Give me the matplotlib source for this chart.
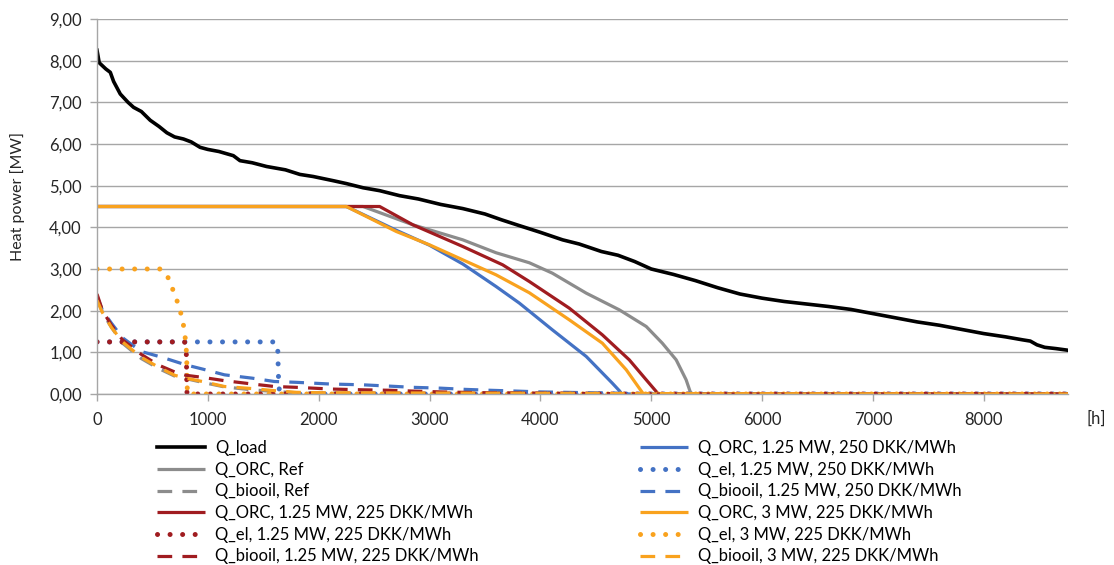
import numpy as np
import matplotlib
matplotlib.use('Agg')
import matplotlib.pyplot as plt
from matplotlib.ticker import FuncFormatter

plt.rcParams['font.family'] = ['Lato', 'DejaVu Sans']

# heat load duration curve
h_load = [0, 20, 80, 120, 150, 210, 280, 330, 400, 480, 560, 630, 700, 780, 850, 930,
          1000, 1100, 1230, 1290, 1400, 1530, 1700, 1830, 1950, 2130, 2250, 2400, 2550,
          2730, 2900, 3100, 3300, 3500, 3650, 3800, 4000, 4200, 4350, 4550, 4700, 4850,
          5000, 5200, 5400, 5600, 5800, 6000, 6200, 6400, 6600, 6800, 7000, 7200, 7400,
          7600, 7800, 8000, 8200, 8350, 8420, 8480, 8550, 8650, 8760]
q_load = [8.25, 7.95, 7.8, 7.72, 7.5, 7.2, 7.0, 6.88, 6.78, 6.57, 6.42, 6.27, 6.17, 6.12,
          6.05, 5.92, 5.87, 5.82, 5.72, 5.6, 5.55, 5.46, 5.38, 5.27, 5.22, 5.12, 5.05, 4.95,
          4.88, 4.76, 4.68, 4.55, 4.45, 4.32, 4.18, 4.05, 3.88, 3.7, 3.6, 3.42, 3.33, 3.18,
          3.0, 2.87, 2.72, 2.55, 2.4, 2.3, 2.22, 2.16, 2.1, 2.03, 1.93, 1.83, 1.73, 1.65,
          1.55, 1.45, 1.37, 1.3, 1.27, 1.18, 1.12, 1.09, 1.05]

# ORC heat
h_orc_ref = [0, 2400, 2850, 3300, 3600, 3900, 4108, 4414, 4712, 4955, 5100, 5225, 5315, 5351, 5370, 8760]
q_orc_ref = [4.5, 4.5, 4.06, 3.70, 3.39, 3.15, 2.9, 2.42, 2.02, 1.62, 1.22, 0.82, 0.34, 0.06, 0, 0]

h_orc_r = [0, 2550, 2850, 3300, 3660, 3900, 4261, 4559, 4802, 4955, 5045, 5060, 8760]
q_orc_r = [4.5, 4.5, 4.06, 3.54, 3.1, 2.7, 2.06, 1.42, 0.82, 0.34, 0.06, 0, 0]

h_orc_b = [0, 2250, 2700, 3000, 3300, 3600, 3811, 4108, 4414, 4649, 4712, 4735, 8760]
q_orc_b = [4.5, 4.5, 3.93, 3.57, 3.12, 2.58, 2.18, 1.54, 0.9, 0.26, 0.08, 0, 0]

h_orc_o = [0, 2250, 2700, 3000, 3300, 3600, 3900, 4261, 4559, 4775, 4892, 4930, 8760]
q_orc_o = [4.5, 4.5, 3.90, 3.58, 3.22, 2.86, 2.43, 1.78, 1.22, 0.58, 0.14, 0, 0]

# electric boiler heat
h_el_r = [0, 790, 805, 812, 8760]
q_el_r = [1.25, 1.25, 1.1, 0, 0]

h_el_b = [0, 1600, 1630, 1635, 1640, 1650, 8760]
q_el_b = [1.25, 1.25, 1.18, 0.6, 0.2, 0, 0]

h_el_o = [0, 580, 640, 700, 740, 770, 790, 805, 812, 815, 8760]
q_el_o = [3.0, 3.0, 2.8, 2.4, 2.1, 1.8, 1.5, 1.1, 0.6, 0, 0]

# bio-oil boiler heat
h_bio_ref = [0, 50, 130, 230, 400, 550, 700, 950, 1150, 1400, 1600, 1800, 2500, 5360, 8760]
q_bio_ref = [2.3, 1.95, 1.6, 1.22, 0.85, 0.62, 0.43, 0.28, 0.17, 0.1, 0.06, 0.03, 0.02, 0, 0]

h_bio_r = [0, 50, 130, 230, 400, 550, 700, 800, 950, 1150, 1400, 1600, 1800, 2100, 2400,
           2630, 2850, 3100, 3500, 4000, 5050, 8760]
q_bio_r = [2.4, 2.0, 1.65, 1.3, 0.95, 0.7, 0.53, 0.45, 0.4, 0.32, 0.24, 0.18, 0.16, 0.12,
           0.1, 0.09, 0.07, 0.05, 0.03, 0.02, 0, 0]

h_bio_b = [0, 50, 130, 230, 400, 600, 800, 950, 1150, 1400, 1600, 1800, 2100, 2400, 2630,
           2850, 3100, 3330, 3540, 3780, 4000, 4230, 4450, 4700, 4760, 8760]
q_bio_b = [2.35, 2.0, 1.7, 1.35, 1.02, 0.87, 0.7, 0.6, 0.46, 0.38, 0.3, 0.28, 0.24, 0.22,
           0.19, 0.16, 0.14, 0.11, 0.09, 0.07, 0.05, 0.04, 0.03, 0.02, 0, 0]

h_bio_o = [0, 50, 130, 230, 400, 550, 700, 800, 950, 1150, 1400, 1600, 1800, 2000, 4930, 8760]
q_bio_o = [2.25, 1.95, 1.6, 1.25, 0.88, 0.65, 0.45, 0.38, 0.3, 0.18, 0.13, 0.08, 0.04, 0.03, 0.01, 0]

c_black = '#000000'
c_gray = '#8C8C8C'
c_red = '#A01C20'
c_blue = '#4472C4'
c_orange = '#F9A21E'

solid = dict(lw=2.3, solid_capstyle='butt')
dotted = dict(lw=3.6, linestyle=(0, (0.01, 2.5)), dash_capstyle='round')
dashed = dict(lw=2.3, linestyle=(0, (4.6, 3.2)), dash_capstyle='butt')

fig = plt.figure(figsize=(11.14, 5.65), dpi=100)
ax = fig.add_axes([97/1114, 1 - 394/565, (1068 - 97)/1114, (394 - 19)/565])

# drawing order as in the spreadsheet
l_load, = ax.plot(h_load, q_load, color=c_black, lw=2.6, label='Q_load')
l_orc_b, = ax.plot(h_orc_b, q_orc_b, color=c_blue, label='Q_ORC, 1.25 MW, 250 DKK/MWh', **solid)
l_orc_ref, = ax.plot(h_orc_ref, q_orc_ref, color=c_gray, label='Q_ORC, Ref', **solid)
l_el_b, = ax.plot(h_el_b, q_el_b, color=c_blue, label='Q_el, 1.25 MW, 250 DKK/MWh', **dotted)
l_bio_ref, = ax.plot(h_bio_ref, q_bio_ref, color=c_gray, label='Q_biooil, Ref', **dashed)
l_bio_b, = ax.plot(h_bio_b, q_bio_b, color=c_blue, label='Q_biooil, 1.25 MW, 250 DKK/MWh', **dashed)
l_orc_r, = ax.plot(h_orc_r, q_orc_r, color=c_red, label='Q_ORC, 1.25 MW, 225 DKK/MWh', **solid)
l_orc_o, = ax.plot(h_orc_o, q_orc_o, color=c_orange, label='Q_ORC, 3 MW, 225 DKK/MWh', **solid)
l_el_r, = ax.plot(h_el_r, q_el_r, color=c_red, label='Q_el, 1.25 MW, 225 DKK/MWh', **dotted)
l_el_o, = ax.plot(h_el_o, q_el_o, color=c_orange, label='Q_el, 3 MW, 225 DKK/MWh', **dotted)
l_bio_r, = ax.plot(h_bio_r, q_bio_r, color=c_red, label='Q_biooil, 1.25 MW, 225 DKK/MWh', **dashed)
l_bio_o, = ax.plot(h_bio_o, q_bio_o, color=c_orange, label='Q_biooil, 3 MW, 225 DKK/MWh', **dashed)

ax.set_xlim(0, 8760)
ax.set_ylim(0, 9)
ax.set_xticks(np.arange(0, 8001, 1000))
ax.set_yticks(np.arange(0, 10, 1))
ax.yaxis.set_major_formatter(FuncFormatter(lambda v, p: ('%.2f' % v).replace('.', ',')))

grid_c = '#A6A6A6'
ax.grid(axis='y', color=grid_c, lw=1.0)
ax.set_axisbelow(True)
for s in ['top', 'right']:
    ax.spines[s].set_visible(False)
for s in ['left', 'bottom']:
    ax.spines[s].set_color(grid_c)
    ax.spines[s].set_linewidth(1.0)
ax.tick_params(axis='both', colors=grid_c, length=5, width=1.0, labelsize=12, labelcolor='#262626')
ax.tick_params(axis='x', pad=8)
ax.tick_params(axis='y', pad=6)

fig.text(18/1114, 1 - 196/565, 'Heat power [MW]', rotation=90, ha='center', va='center',
         fontsize=11.5, color='#262626')
fig.text(1096/1114, 1 - 419/565, '[h]', ha='center', va='center', fontsize=12, color='#262626')

leg_kw = dict(frameon=False, fontsize=12, handlelength=2.9, handletextpad=0.6,
              labelspacing=0.34, borderaxespad=0, borderpad=0)
leg1 = fig.legend(handles=[l_load, l_orc_ref, l_bio_ref, l_orc_r, l_el_r, l_bio_r],
                  loc='upper left', bbox_to_anchor=(157/1114, 1 - 440/565), **leg_kw)
leg2 = fig.legend(handles=[l_orc_b, l_el_b, l_bio_b, l_orc_o, l_el_o, l_bio_o],
                  loc='upper left', bbox_to_anchor=(640/1114, 1 - 440/565), **leg_kw)

fig.savefig('out.png', dpi=100)
